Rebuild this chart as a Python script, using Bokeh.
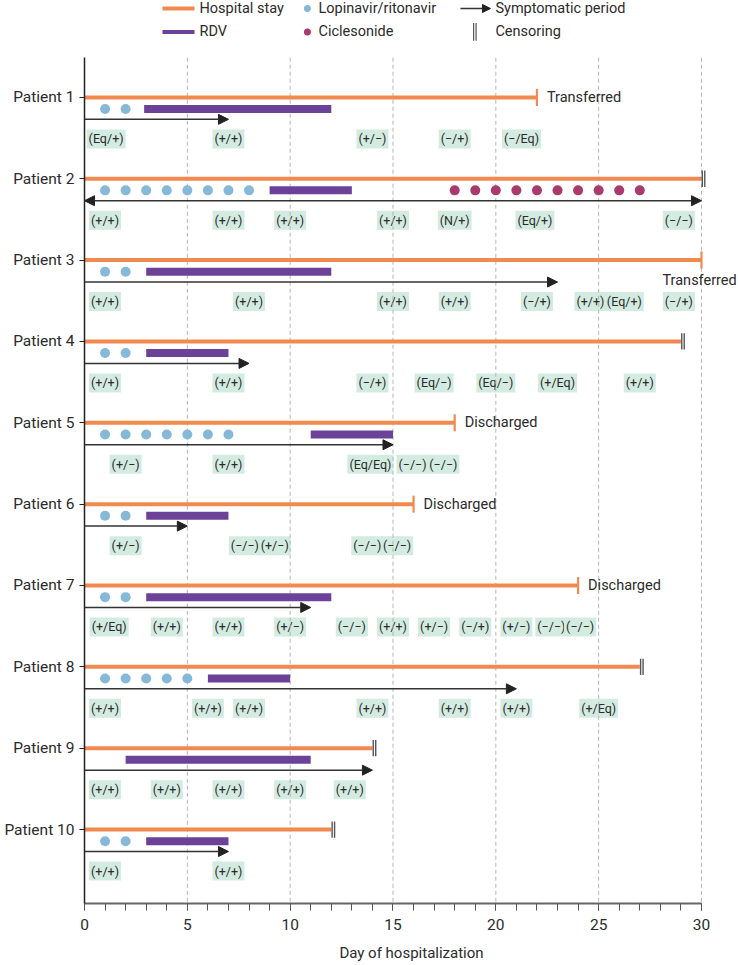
import math
from bokeh.plotting import figure
from bokeh.models import (ColumnDataSource, Range1d, FixedTicker, SingleIntervalTicker,
                          Arrow, NormalHead)
from bokeh.core.properties import value
from bokeh.embed import file_html
from bokeh.resources import INLINE

# ---------------- data ----------------
patients = [f"Patient {i}" for i in range(1, 11)]
stay_end = [22, 30, 30, 29, 18, 16, 24, 27, 14, 12]
outcome = ["Transferred", "Censoring", "Transferred", "Censoring", "Discharged",
           "Discharged", "Discharged", "Censoring", "Censoring", "Censoring"]
rdv_start = [2.9, 9, 3, 3, 11, 3, 3, 6, 2, 3]
rdv_end = [12, 13, 12, 7, 15, 7, 12, 10, 11, 7]
lpv_days = [[1, 2], [1, 2, 3, 4, 5, 6, 7, 8], [1, 2], [1, 2], [1, 2, 3, 4, 5, 6, 7],
            [1, 2], [1, 2], [1, 2, 3, 4, 5], [], [1, 2]]
cic_days = [[], [18, 19, 20, 21, 22, 23, 24, 25, 26, 27], [], [], [], [], [], [], [], []]
sym_end = [7, 30, 23, 8, 15, 5, 11, 21, 14, 7]
sym_before_admission = [False, True, False, False, False, False, False, False, False, False]

test_days = [
    [1.05, 7, 14, 18, 21.25],
    [1, 7, 10, 15, 18, 21.9, 28.9],
    [1, 8, 15, 18, 22, 24.6, 26.25, 28.9],
    [1, 7, 14, 17, 20, 23, 27],
    [2, 7, 13.9, 15.95, 17.45],
    [2, 7.8, 9.25, 13.75, 15.2],
    [1.2, 4, 7, 10, 13, 15, 17, 19, 21, 22.7, 24.1],
    [1, 6, 8, 14, 18, 21, 25],
    [1, 4, 7, 10, 12.9],
    [1, 7],
]
test_results = [
    ["(Eq/+)", "(+/+)", "(+/−)", "(−/+)", "(−/Eq)"],
    ["(+/+)", "(+/+)", "(+/+)", "(+/+)", "(N/+)", "(Eq/+)", "(−/−)"],
    ["(+/+)", "(+/+)", "(+/+)", "(+/+)", "(−/+)", "(+/+)", "(Eq/+)", "(−/+)"],
    ["(+/+)", "(+/+)", "(−/+)", "(Eq/−)", "(Eq/−)", "(+/Eq)", "(+/+)"],
    ["(+/−)", "(+/+)", "(Eq/Eq)", "(−/−)", "(−/−)"],
    ["(+/−)", "(−/−)", "(+/−)", "(−/−)", "(−/−)"],
    ["(+/Eq)", "(+/+)", "(+/+)", "(+/−)", "(−/−)", "(+/+)", "(+/−)", "(−/+)", "(+/−)", "(−/−)", "(−/−)"],
    ["(+/+)", "(+/+)", "(+/+)", "(+/+)", "(+/+)", "(+/+)", "(+/Eq)"],
    ["(+/+)", "(+/+)", "(+/+)", "(+/+)", "(+/+)"],
    ["(+/+)", "(+/+)"],
]
x_ticks_grid = [5, 10, 15, 20, 25, 30]

# ---------------- style ----------------
ORANGE = "#F28A50"
PURPLE = "#6B4298"
BLUE = "#86B9D8"
MAROON = "#A83B6C"
MINT = "#D3EBE1"
TXT = "#2b2b2b"
FONT = "Roboto"

DOT_DY = 0.143
ARROW_DY = 0.27
LABEL_DY = 0.51

p = figure(width=738, height=964, output_backend="svg", toolbar_location=None,
           x_range=Range1d(0, 31.80), y_range=Range1d(10.909, -0.191),
           min_border_left=84, min_border_right=0, min_border_top=0, min_border_bottom=57)
p.outline_line_color = None
p.xgrid.visible = False
p.ygrid.visible = False

ys = list(range(1, 11))

# test result labels
lx, ly, lt = [], [], []
for i, (ds, rs) in enumerate(zip(test_days, test_results)):
    for d, r in zip(ds, rs):
        lx.append(d); ly.append(ys[i] + LABEL_DY); lt.append(r)
p.text(x=lx, y=ly, text=lt, text_align="center", text_baseline="middle",
       text_font=value(FONT), text_font_size="12.5px", text_color=TXT,
       background_fill_color=MINT, padding=2)

# dashed grid lines
grid_top = 0.513
grid_bot = 10.909
p.segment(x0=x_ticks_grid, y0=[grid_top] * 6, x1=x_ticks_grid, y1=[grid_bot] * 6,
          line_color="#b5b5b5", line_width=1, line_dash="4 3")

# hospital stay
p.segment(x0=[0] * 10, y0=ys, x1=stay_end, y1=ys, line_color=ORANGE, line_width=4,
          line_cap="butt")

# RDV
p.segment(x0=rdv_start, y0=[y + DOT_DY for y in ys], x1=rdv_end,
          y1=[y + DOT_DY for y in ys], line_color=PURPLE, line_width=8, line_cap="butt")

# drugs
bx, by = [], []
for i, ds in enumerate(lpv_days):
    for d in ds:
        bx.append(d); by.append(ys[i] + DOT_DY)
p.scatter(bx, by, size=10, fill_color=BLUE, line_color=None)
cx, cy = [], []
for i, ds in enumerate(cic_days):
    for d in ds:
        cx.append(d); cy.append(ys[i] + DOT_DY)
p.scatter(cx, cy, size=10, fill_color=MAROON, line_color=None)

# symptomatic period arrows
src1 = ColumnDataSource(dict(
    x0=[0 for i in range(10) if not sym_before_admission[i]],
    x1=[sym_end[i] for i in range(10) if not sym_before_admission[i]],
    y=[ys[i] + ARROW_DY for i in range(10) if not sym_before_admission[i]]))
p.add_layout(Arrow(source=src1, x_start="x0", y_start="y", x_end="x1", y_end="y",
                   line_color="#333333", line_width=1.5,
                   end=NormalHead(size=10, fill_color="#222222", line_color="#222222")))
src2 = ColumnDataSource(dict(
    x0=[0 for i in range(10) if sym_before_admission[i]],
    x1=[sym_end[i] for i in range(10) if sym_before_admission[i]],
    y=[ys[i] + ARROW_DY for i in range(10) if sym_before_admission[i]]))
p.add_layout(Arrow(source=src2, x_start="x0", y_start="y", x_end="x1", y_end="y",
                   line_color="#333333", line_width=1.5,
                   start=NormalHead(size=10, fill_color="#222222", line_color="#222222"),
                   end=NormalHead(size=10, fill_color="#222222", line_color="#222222")))

# end markers
ox = [stay_end[i] for i in range(10) if outcome[i] != "Censoring"]
oy = [ys[i] for i in range(10) if outcome[i] != "Censoring"]
p.scatter(ox, oy, marker="dash", angle=math.pi / 2, size=17, line_color=ORANGE,
          line_width=2.2, fill_color=None)
cxs = [stay_end[i] for i in range(10) if outcome[i] == "Censoring"]
cys = [ys[i] for i in range(10) if outcome[i] == "Censoring"]
for dx in (0.04, 0.16):
    p.segment(x0=[c + dx for c in cxs], y0=[y - 0.1 for y in cys],
              x1=[c + dx for c in cxs], y1=[y + 0.1 for y in cys],
              line_color="#555555", line_width=1.4)

# outcome texts
for i in range(10):
    if outcome[i] == "Censoring":
        continue
    if stay_end[i] >= 29.5:
        p.text(x=[stay_end[i]], y=[ys[i] + 0.245], text=[outcome[i]], x_offset=-39,
               text_align="left", text_baseline="middle", text_font=value(FONT),
               text_font_size="14.5px", text_color=TXT)
    else:
        p.text(x=[stay_end[i]], y=[ys[i]], text=[outcome[i]], x_offset=10,
               text_align="left", text_baseline="middle", text_font=value(FONT),
               text_font_size="14.5px", text_color=TXT)

# ---------------- legend (drawn in plot space) ----------------
r1, r2 = -0.093, 0.195
p.segment(x0=[3.79], y0=[r1], x1=[5.35], y1=[r1], line_color=ORANGE, line_width=4)
p.segment(x0=[3.79], y0=[r2], x1=[5.35], y1=[r2], line_color=PURPLE, line_width=4)
p.scatter([10.84], [r1], size=7, fill_color=BLUE, line_color=None)
p.scatter([10.84], [r2], size=7, fill_color=MAROON, line_color=None)
p.add_layout(Arrow(x_start=18.28, y_start=r1, x_end=19.74, y_end=r1, line_color="#333333",
                   line_width=1.5,
                   end=NormalHead(size=8, fill_color="#222222", line_color="#222222")))
p.segment(x0=[18.92, 19.04], y0=[r2 - 0.11] * 2, x1=[18.92, 19.04], y1=[r2 + 0.11] * 2,
          line_color="#555555", line_width=1.2)
p.text(x=[5.59, 11.38, 19.98, 5.59, 11.38, 19.98], y=[r1, r1, r1, r2, r2, r2],
       text=["Hospital stay", "Lopinavir/ritonavir", "Symptomatic period", "RDV",
             "Ciclesonide", "Censoring"],
       text_align="left", text_baseline="middle", text_font=value(FONT),
       text_font_size="14.5px", text_color=TXT)

# ---------------- axes ----------------
xa = p.xaxis[0]
xa.ticker = SingleIntervalTicker(interval=5, num_minor_ticks=5)
xa.bounds = (0, 30)
xa.axis_line_color = "#666666"
xa.axis_line_width = 2
xa.major_tick_line_color = "#555555"
xa.minor_tick_line_color = "#555555"
xa.major_tick_out = 7
xa.major_tick_in = 0
xa.minor_tick_out = 7
xa.minor_tick_in = 0
xa.major_label_standoff = 8
xa.major_label_text_font = FONT
xa.major_label_text_font_size = "15.5px"
xa.major_label_text_color = TXT
xa.axis_label = "Day of hospitalization"
xa.axis_label_text_font = FONT
xa.axis_label_text_font_size = "15px"
xa.axis_label_text_font_style = "normal"
xa.axis_label_text_color = TXT
xa.axis_label_standoff = 11

ya = p.yaxis[0]
ya.ticker = FixedTicker(ticks=ys)
ya.major_label_overrides = {y: name for y, name in zip(ys, patients)}
ya.bounds = (grid_top, grid_bot)
ya.axis_line_color = "#222222"
ya.axis_line_width = 1.5
ya.major_tick_line_color = "#222222"
ya.major_tick_out = 5
ya.major_tick_in = 0
ya.minor_tick_line_color = None
ya.major_label_standoff = 5
ya.major_label_text_font = FONT
ya.major_label_text_font_size = "15.5px"
ya.major_label_text_color = TXT

open("out.html", "w").write(file_html(p, INLINE))
